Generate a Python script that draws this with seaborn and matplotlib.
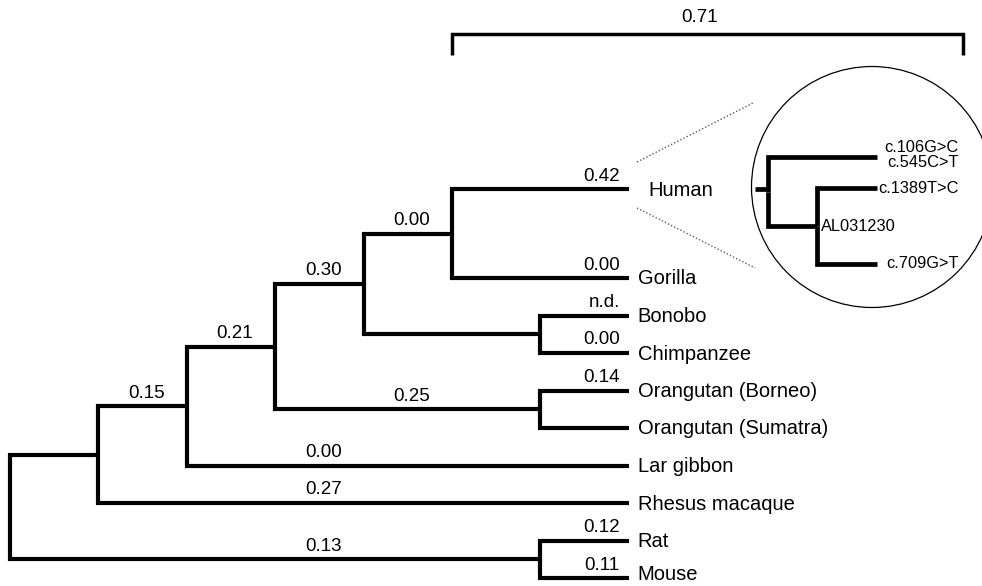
import numpy as np
import pandas as pd
import matplotlib
matplotlib.use("Agg")
import matplotlib.pyplot as plt
import seaborn as sns
from matplotlib.patches import Circle


# main tree (cladogram)
node_names = ["root", "A", "B", "C", "D", "E", "BonChi", "Orang", "RatMouse",
              "Human", "Gorilla", "Bonobo", "Chimpanzee", "Orangutan (Borneo)",
              "Orangutan (Sumatra)", "Lar gibbon", "Rhesus macaque", "Rat", "Mouse"]
node_parent = [None, "root", "A", "B", "C", "D", "D", "C", "root",
               "E", "E", "BonChi", "BonChi", "Orang",
               "Orang", "B", "A", "RatMouse", "RatMouse"]
node_depth = [0, 1, 2, 3, 4, 5, 6, 6, 6,
              7, 7, 7, 7, 7,
              7, 7, 7, 7, 7]
branch_labels = [None, None, "0.15", "0.21", "0.30", "0.00", None, "0.25", "0.13",
                 "0.42", "0.00", "n.d.", "0.00", "0.14",
                 None, "0.00", "0.27", "0.12", "0.11"]

taxa = ["Human", "Gorilla", "Bonobo", "Chimpanzee", "Orangutan (Borneo)",
        "Orangutan (Sumatra)", "Lar gibbon", "Rhesus macaque", "Rat", "Mouse"]
tip_rows = [10.37, 8, 7, 6, 5, 4, 3, 2, 1, 0]

# inset: human haplotypes
inset_names = ["iroot", "AL031230", "top", "c.1389T>C", "c.709G>T"]
inset_parent = [None, "iroot", "iroot", "AL031230", "AL031230"]
inset_cols = [0, 1, 2.22, 2.22, 2.22]
inset_tips = ["top", "c.1389T>C", "c.709G>T"]
inset_tip_rows = [3.45, 2.45, 0]
top_tip_text = ["c.106G>C", "c.545C>T"]

scale_label = "0.71"

# layout (pixels)
X0, STEP = 10, 88.4
Y0, ROW = 578, 37.5
IX0, ISTEP = 768, 49
IY0, IROW = 264, 31


def tree_rows(names, parents, tips, rows):
    r = dict(zip(tips, rows))
    children = {n: [c for c, p in zip(names, parents) if p == n] for n in names}

    def get(n):
        if n not in r:
            r[n] = np.mean([get(c) for c in children[n]])
        return r[n]
    for n in names:
        get(n)
    return r


def segments(names, parents, xs, ys):
    recs = []
    for n, p in zip(names, parents):
        if p is None:
            continue
        for x, y in [(xs[p], ys[p]), (xs[p], ys[n]), (xs[n], ys[n])]:
            recs.append({"branch": n, "x": x, "y": y})
    return pd.DataFrame(recs)


rows = tree_rows(node_names, node_parent, taxa, tip_rows)
depth = dict(zip(node_names, node_depth))
xs = {n: X0 + STEP * d for n, d in depth.items()}
ys = {n: Y0 - ROW * r for n, r in rows.items()}

irows = tree_rows(inset_names, inset_parent, inset_tips, inset_tip_rows)
ixs = {n: IX0 + ISTEP * c for n, c in zip(inset_names, inset_cols)}
iys = {n: IY0 - IROW * r for n, r in irows.items()}

sns.set_style("white")
plt.rcParams["font.family"] = ["Liberation Sans", "DejaVu Sans"]
plt.rcParams["text.color"] = "black"

fig = plt.figure(figsize=(9.82, 5.86), dpi=100)
ax = fig.add_axes([0, 0, 1, 1])

seg = segments(node_names, node_parent, xs, ys)
sns.lineplot(data=seg, x="x", y="y", units="branch", estimator=None, sort=False,
             color="black", lw=3.0, solid_capstyle="butt", solid_joinstyle="miter",
             legend=False, ax=ax)

# tip labels (kept inside the bottom edge)
for t in taxa:
    off = 20 if t == "Human" else 9
    ax.text(xs[t] + off, min(ys[t] + 1, 574), t, ha="left", va="center", fontsize=14.5)

# branch labels
for n, p, lab in zip(node_names, node_parent, branch_labels):
    if lab is None:
        continue
    y = ys[n] - 13
    if depth[n] == 7 and depth[p] >= 5:
        ax.text(xs[n] - 9, y, lab, ha="right", va="center", fontsize=13.5)
    else:
        col = 3.5 if depth[n] - depth[p] > 3 else (depth[n] + depth[p]) / 2
        ax.text(X0 + STEP * col + 4, y, lab, ha="center", va="center", fontsize=13.5)

# scale bracket over the human lineage
bx0, bx1 = xs["E"], 963
ax.plot([bx0, bx0, bx1, bx1], [55, 34, 34, 55], color="black", lw=2.5,
        solid_joinstyle="miter", solid_capstyle="butt")
ax.text((bx0 + bx1) / 2 - 8, 17, scale_label, ha="center", va="center", fontsize=13.5)

# zoom circle with dotted guides
ax.add_patch(Circle((872, 187), 120.5, fill=False, lw=0.9, color="black"))
ax.plot([637, 753], [162, 103], color="0.35", lw=1, ls=(0, (1, 1.5)))
ax.plot([637, 755], [208, 268], color="0.35", lw=1, ls=(0, (1, 1.5)))

# inset tree
iseg = segments(inset_names, inset_parent, ixs, iys)
sns.lineplot(data=iseg, x="x", y="y", units="branch", estimator=None, sort=False,
             color="black", lw=3.4, solid_capstyle="butt", solid_joinstyle="miter",
             legend=False, ax=ax)
ax.plot([755, ixs["iroot"]], [iys["iroot"] - 3, iys["iroot"] - 3], color="black", lw=3.4,
        solid_capstyle="butt")

tx = 959
ax.text(tx, iys["top"] - 10, top_tip_text[0], ha="right", va="center", fontsize=11.8)
ax.text(tx, iys["top"] + 5, top_tip_text[1], ha="right", va="center", fontsize=11.8)
for t in ["c.1389T>C", "c.709G>T"]:
    ax.text(tx, iys[t], t, ha="right", va="center", fontsize=11.8)
ax.text(ixs["AL031230"] + 4, iys["AL031230"], "AL031230", ha="left", va="center",
        fontsize=11.8)

ax.set_xlim(0, 982)
ax.set_ylim(586, 0)
ax.axis("off")

fig.savefig("out.png", dpi=100)
